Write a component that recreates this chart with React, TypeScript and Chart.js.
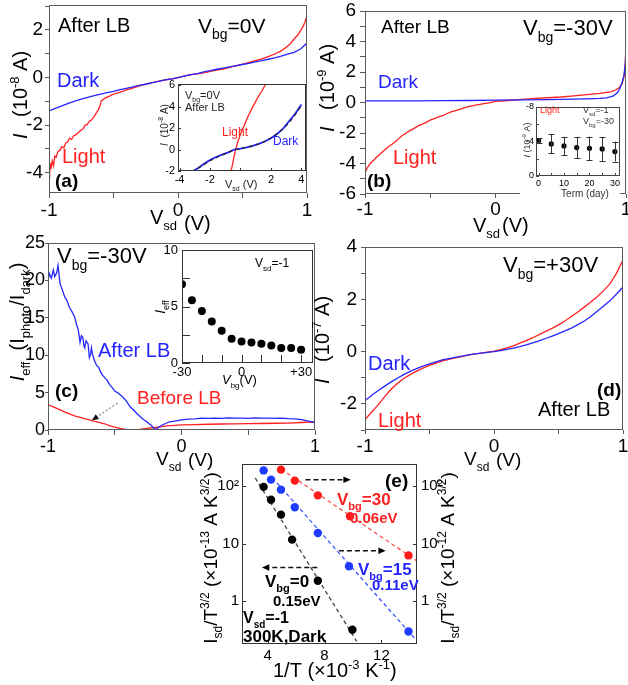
import React, { useEffect, useRef } from 'react';
import { Chart, registerables } from 'chart.js';
Chart.register(...registerables);

const W = 628, H = 685;
const FONT = '"Liberation Sans", Arial, Helvetica, sans-serif';
const RED = '#ff2020', BLUE = '#2424ff', FRAME = '#5a5a5a';

// ---------- (a) Vbg = 0 V, after LB ----------
const aDark: number[][] = [[-1,-1.40],[-0.95,-1.29],[-0.9,-1.19],[-0.85,-1.08],[-0.8,-0.99],[-0.75,-0.91],[-0.7,-0.83],[-0.65,-0.76],[-0.6,-0.70],[-0.55,-0.63],[-0.5,-0.58],[-0.45,-0.51],[-0.4,-0.45],[-0.35,-0.39],[-0.3,-0.33],[-0.25,-0.28],[-0.2,-0.21],[-0.15,-0.16],[-0.1,-0.10],[-0.05,-0.05],[0,0],[0.05,0.06],[0.1,0.12],[0.15,0.17],[0.2,0.24],[0.25,0.29],[0.3,0.35],[0.35,0.40],[0.4,0.45],[0.45,0.50],[0.5,0.55],[0.55,0.60],[0.6,0.66],[0.65,0.71],[0.7,0.77],[0.75,0.83],[0.8,0.90],[0.85,0.99],[0.9,1.06],[0.95,1.20],[1,1.45]];
const aLight: number[][] = [[-1,-3.95],[-0.995,-4.05],[-0.99,-3.6],[-0.985,-3.85],[-0.975,-3.5],[-0.965,-3.7],[-0.955,-3.3],[-0.945,-3.35],[-0.93,-3.1],[-0.915,-3.05],[-0.9,-2.9],[-0.885,-2.95],[-0.87,-2.75],[-0.855,-2.7],[-0.84,-2.55],[-0.825,-2.6],[-0.81,-2.45],[-0.79,-2.4],[-0.77,-2.3],[-0.75,-2.2],[-0.735,-2.15],[-0.72,-2.0],[-0.705,-1.98],[-0.69,-1.85],[-0.675,-1.8],[-0.66,-1.7],[-0.645,-1.6],[-0.63,-1.45],[-0.62,-1.38],[-0.605,-1.2],[-0.595,-0.98],[-0.58,-0.92],[-0.565,-0.86],[-0.55,-0.82],[-0.53,-0.78],[-0.51,-0.72],[-0.49,-0.68],[-0.46,-0.63],[-0.43,-0.58],[-0.4,-0.52],[-0.37,-0.47],[-0.34,-0.42],[-0.31,-0.37],[-0.28,-0.32],[-0.25,-0.28],[-0.22,-0.23],[-0.19,-0.2],[-0.16,-0.16],[-0.12,-0.12],[-0.08,-0.08],[-0.04,-0.05],[0,0],[0.05,0.07],[0.1,0.12],[0.15,0.16],[0.2,0.2],[0.25,0.26],[0.3,0.31],[0.35,0.36],[0.4,0.43],[0.45,0.49],[0.5,0.57],[0.55,0.64],[0.6,0.71],[0.65,0.79],[0.7,0.88],[0.75,0.99],[0.8,1.12],[0.84,1.28],[0.87,1.42],[0.9,1.62],[0.93,1.8],[0.95,1.97],[0.97,2.15],[0.985,2.35],[1,2.6]];
const aXTicks = [-1, -0.5, 0, 0.5, 1];
const aXLabels = [-1, 0, 1];
const aYTicks = [-4, -3, -2, -1, 0, 1, 2, 3];
const aYLabels = [-4, -2, 0, 2];
// inset of (a)
const aInDark: number[][] = [[-3.1,-2.0],[-2.8,-1.75],[-2.5,-1.45],[-2.2,-1.15],[-2.0,-0.98],[-1.6,-0.7],[-1.2,-0.47],[-0.8,-0.26],[-0.4,0.0],[0,0.08],[0.4,0.2],[0.8,0.34],[1.2,0.52],[1.6,0.75],[2.0,1.05],[2.4,1.45],[2.8,1.95],[3.2,2.65],[3.6,3.35],[4.0,4.2]];
const aInFit: number[][] = [[-3.2,-2.1],[-2.5,-1.5],[-2,-1.05],[-1.5,-0.7],[-1,-0.38],[-0.5,-0.08],[0,0.1],[0.5,0.22],[1,0.42],[1.5,0.7],[2,1.08],[2.5,1.56],[3,2.2],[3.5,3.05],[4,4.1]];
const aInLight: number[][] = [[-0.62,-2.0],[-0.5,-1.25],[-0.4,-0.5],[-0.3,0.1],[-0.15,0.8],[0,1.45],[0.2,2.1],[0.5,3.1],[0.8,3.95],[1.1,4.75],[1.4,5.45],[1.7,6.2]];
const aInXTicks = [-4, -2, 0, 2, 4];
const aInXLabels = [-4, -2, 2, 4];
const aInYTicks = [-2, 0, 2, 4, 6];

// ---------- (b) Vbg = -30 V, after LB ----------
const bDark: number[][] = [[-1,0.1],[-0.8,0.11],[-0.6,0.11],[-0.4,0.12],[-0.2,0.13],[0,0.15],[0.2,0.17],[0.4,0.19],[0.6,0.22],[0.7,0.24],[0.8,0.27],[0.85,0.3],[0.9,0.42],[0.93,0.6],[0.95,0.86],[0.97,1.3],[0.985,1.8],[0.995,2.6],[1.0,3.6]];
const bLight: number[][] = [[-1,-4.6],[-0.98,-4.25],[-0.96,-4.0],[-0.93,-3.75],[-0.91,-3.57],[-0.88,-3.35],[-0.85,-3.11],[-0.82,-2.9],[-0.78,-2.66],[-0.75,-2.45],[-0.72,-2.2],[-0.69,-2.03],[-0.66,-1.86],[-0.62,-1.68],[-0.59,-1.52],[-0.56,-1.42],[-0.53,-1.3],[-0.5,-1.15],[-0.46,-1.02],[-0.43,-0.93],[-0.4,-0.84],[-0.37,-0.72],[-0.34,-0.61],[-0.3,-0.52],[-0.27,-0.43],[-0.24,-0.35],[-0.21,-0.27],[-0.17,-0.21],[-0.14,-0.16],[-0.1,-0.09],[-0.05,-0.02],[0,0.07],[0.1,0.13],[0.2,0.2],[0.3,0.27],[0.4,0.31],[0.5,0.36],[0.6,0.43],[0.7,0.51],[0.8,0.6],[0.88,0.7],[0.92,0.82],[0.95,0.98],[0.97,1.25],[0.985,1.7],[0.995,2.6],[1.0,4.0]];
const bYTicks = [-6, -5, -4, -3, -2, -1, 0, 1, 2, 3, 4, 5, 6];
const bYLabels = [-6, -4, -2, 0, 2, 4, 6];
// inset of (b)
const bDays = [0, 5, 10, 15, 20, 25, 30];
const bCurr = [-4.1, -3.72, -3.49, -3.29, -3.22, -3.14, -2.83];
const bErr = [0.3, 1.1, 1.05, 1.25, 1.35, 1.4, 1.15];
const bInXTicks = [0, 5, 10, 15, 20, 25, 30];
const bInXLabels = [0, 10, 20, 30];
const bInYTicks = [-8, -6, -4, -2, 0];
const bInYLabels = [-8, -4, 0];

// ---------- (c) Ieff ----------
const cAfter: number[][] = [[-1,20.0],[-0.99,20.9],[-0.975,20.3],[-0.96,21.4],[-0.95,20.5],[-0.935,21.0],[-0.925,22.0],[-0.91,19.6],[-0.89,18.6],[-0.875,17.8],[-0.86,17.4],[-0.84,16.4],[-0.82,15.8],[-0.8,15.1],[-0.785,14.0],[-0.775,13.5],[-0.765,12.4],[-0.76,11.7],[-0.75,12.6],[-0.74,12.4],[-0.73,11.2],[-0.725,11.0],[-0.715,11.9],[-0.7,11.5],[-0.69,9.7],[-0.68,10.2],[-0.675,11.0],[-0.665,10.0],[-0.65,9.2],[-0.635,8.6],[-0.62,8.4],[-0.61,7.9],[-0.595,7.4],[-0.575,7.0],[-0.555,6.6],[-0.54,6.1],[-0.52,5.7],[-0.5,5.2],[-0.48,5.0],[-0.46,4.7],[-0.44,4.4],[-0.41,3.8],[-0.385,3.1],[-0.36,2.7],[-0.335,2.2],[-0.31,1.8],[-0.285,1.4],[-0.26,1.1],[-0.24,0.8],[-0.225,0.6],[-0.21,0.3],[-0.2,0.1],[-0.19,0.15],[-0.175,0.3],[-0.16,0.5],[-0.14,0.7],[-0.115,0.9],[-0.09,1.1],[-0.05,1.2],[0,1.35],[0.05,1.45],[0.1,1.5],[0.15,1.6],[0.2,1.55],[0.25,1.6],[0.3,1.55],[0.35,1.62],[0.4,1.58],[0.45,1.6],[0.5,1.55],[0.55,1.62],[0.6,1.58],[0.65,1.6],[0.7,1.55],[0.75,1.58],[0.8,1.52],[0.85,1.5],[0.9,1.38],[0.95,1.2],[1,1.0]];
const cBefore: number[][] = [[-1,3.4],[-0.96,3.1],[-0.92,2.8],[-0.88,2.45],[-0.84,2.15],[-0.8,1.9],[-0.76,1.7],[-0.72,1.5],[-0.69,1.35],[-0.65,1.15],[-0.61,1.0],[-0.57,0.8],[-0.54,0.6],[-0.5,0.4],[-0.46,0.22],[-0.43,0.1],[-0.4,0.0],[-0.37,0.02],[-0.34,0.0],[-0.3,0.1],[-0.26,0.22],[-0.22,0.3],[-0.19,0.36],[-0.15,0.45],[-0.11,0.54],[-0.05,0.62],[0,0.68],[0.1,0.72],[0.2,0.77],[0.3,0.8],[0.4,0.81],[0.5,0.84],[0.6,0.87],[0.7,0.9],[0.8,0.93],[0.9,1.0],[1,1.1]];
const cArrow: number[][] = [[-0.48, 3.6], [-0.67, 1.3]];
const cYTicks = [0, 5, 10, 15, 20, 25];
// inset of (c)
const cVbg = [-30, -25, -20, -15, -10, -5, 0, 5, 10, 15, 20, 25, 30];
const cEff = [6.97, 5.56, 4.6, 3.67, 2.85, 2.14, 1.9, 1.82, 1.7, 1.55, 1.32, 1.32, 1.17];
const cInXTicks = [-30, -20, -10, 0, 10, 20, 30];
const cInYTicks = [0, 2.5, 5, 7.5, 10];
const cInYLabels = [0, 5, 10];

// ---------- (d) Vbg = +30 V ----------
const dDark: number[][] = [[-1,-1.87],[-0.95,-1.68],[-0.9,-1.5],[-0.85,-1.33],[-0.8,-1.17],[-0.75,-1.02],[-0.7,-0.88],[-0.65,-0.76],[-0.6,-0.65],[-0.55,-0.56],[-0.5,-0.47],[-0.45,-0.39],[-0.4,-0.32],[-0.35,-0.27],[-0.3,-0.22],[-0.25,-0.17],[-0.2,-0.13],[-0.15,-0.09],[-0.1,-0.06],[-0.05,-0.03],[0,0],[0.05,0.04],[0.1,0.08],[0.15,0.13],[0.2,0.19],[0.25,0.26],[0.3,0.33],[0.35,0.41],[0.4,0.5],[0.45,0.59],[0.5,0.69],[0.55,0.79],[0.6,0.9],[0.65,1.03],[0.7,1.17],[0.75,1.34],[0.8,1.54],[0.85,1.74],[0.9,1.95],[0.95,2.2],[1,2.47]];
const dLight: number[][] = [[-1,-2.6],[-0.95,-2.32],[-0.9,-2.05],[-0.85,-1.74],[-0.8,-1.45],[-0.75,-1.22],[-0.7,-1.03],[-0.65,-0.88],[-0.6,-0.75],[-0.55,-0.63],[-0.5,-0.53],[-0.45,-0.44],[-0.4,-0.36],[-0.35,-0.3],[-0.3,-0.24],[-0.25,-0.19],[-0.2,-0.14],[-0.15,-0.1],[-0.1,-0.06],[-0.05,-0.02],[0,0.02],[0.05,0.07],[0.1,0.14],[0.15,0.22],[0.2,0.32],[0.25,0.42],[0.3,0.53],[0.35,0.65],[0.4,0.77],[0.45,0.89],[0.5,1.02],[0.55,1.17],[0.6,1.34],[0.65,1.51],[0.7,1.7],[0.75,1.9],[0.8,2.1],[0.85,2.33],[0.9,2.6],[0.95,3.0],[1,3.5]];
const dYTicks = [-3, -2, -1, 0, 1, 2, 3, 4];
const dYLabels = [-2, 0, 2, 4];

// ---------- (e) Arrhenius ----------
const eBlackX = [3.72, 4.24, 4.94, 5.72, 7.53, 9.96];
const eBlackY = [98, 58.5, 32, 11.7, 2.24, 0.31];
const eBlueX = [3.72, 4.24, 4.94, 5.91, 7.53, 9.72, 13.9];
const eBlueY = [190, 131, 87.5, 43, 15.3, 4.0, 0.29];
const eRedX = [4.94, 5.91, 7.53, 9.79, 13.9];
const eRedY = [196, 126, 69.6, 30, 6.2];
const eBlackFit: number[][] = [[3.13, 140], [10.26, 0.195]];
const eBlueFit: number[][] = [[4.66, 114.7], [14.42, 0.208]];
const eRedFit: number[][] = [[5.37, 171], [14.54, 4.87]];
const eArrows: number[][] = [[6.66, 9.84, 131], [9.01, 12.3, 7.5], [7.49, 3.6, 3.82]];
const eXTicks = [4, 8, 12];
const eYTicks = [1, 10, 100];
const eYLabels = ['1', '10', '10²'];

// ---------- helpers ----------
type Seg = { t: string; s?: 'sub' | 'sup'; i?: boolean };
const V = (sub: string, rest: string): Seg[] => [{ t: 'V' }, { t: sub, s: 'sub' }, { t: rest }];

function text(ctx: CanvasRenderingContext2D, segs: string | Seg[], x: number, y: number, size: number, o: any = {}) {
  const list: Seg[] = typeof segs === 'string' ? [{ t: segs }] : segs;
  ctx.save();
  ctx.translate(x, y);
  if (o.rot) ctx.rotate(o.rot);
  ctx.fillStyle = o.color || '#000';
  ctx.textBaseline = 'alphabetic';
  ctx.textAlign = 'left';
  const f = (sg: Seg) => `${sg.i ? 'italic ' : ''}${o.bold ? 'bold ' : ''}${sg.s ? Math.round(size * 0.65) : size}px ${FONT}`;
  let total = 0;
  for (const sg of list) { ctx.font = f(sg); total += ctx.measureText(sg.t).width; }
  let cx = o.align === 'center' ? -total / 2 : o.align === 'right' ? -total : 0;
  for (const sg of list) {
    ctx.font = f(sg);
    const dy = sg.s === 'sub' ? size * 0.3 : sg.s === 'sup' ? -size * 0.42 : 0;
    ctx.fillText(sg.t, cx, dy);
    cx += ctx.measureText(sg.t).width;
  }
  ctx.restore();
}
function textRot(ctx: CanvasRenderingContext2D, segs: string | Seg[], cx: number, cy: number, size: number, o: any = {}) {
  ctx.save();
  ctx.translate(cx, cy);
  ctx.rotate(-Math.PI / 2);
  text(ctx, segs, 0, size * 0.35, size, { ...o, align: 'center' });
  ctx.restore();
}
function arrow(ctx: CanvasRenderingContext2D, x1: number, y1: number, x2: number, y2: number, color: string, dash: number[], head = 7, lw = 1.5) {
  ctx.save();
  const ang = Math.atan2(y2 - y1, x2 - x1);
  ctx.strokeStyle = color; ctx.lineWidth = lw; ctx.setLineDash(dash);
  ctx.beginPath(); ctx.moveTo(x1, y1);
  ctx.lineTo(x2 - Math.cos(ang) * head * 0.8, y2 - Math.sin(ang) * head * 0.8); ctx.stroke();
  ctx.setLineDash([]); ctx.fillStyle = '#000';
  ctx.beginPath(); ctx.moveTo(x2, y2);
  ctx.lineTo(x2 - head * Math.cos(ang - 0.42), y2 - head * Math.sin(ang - 0.42));
  ctx.lineTo(x2 - head * Math.cos(ang + 0.42), y2 - head * Math.sin(ang + 0.42));
  ctx.closePath(); ctx.fill();
  ctx.restore();
}

const line = (pairs: number[][], color: string, width = 1.3, dash: number[] = []) => ({
  data: pairs.map(([x, y]) => ({ x, y })), borderColor: color, borderWidth: width, pointRadius: 0,
  fill: false, tension: 0, borderDash: dash,
});
const dots = (xs: number[], ys: number[], color: string, r: number) => ({
  data: xs.map((x, i) => ({ x, y: ys[i] })), showLine: false, pointRadius: r,
  pointBackgroundColor: color, pointBorderColor: color, borderColor: color, backgroundColor: color, pointBorderWidth: 0,
});

interface Ax { min: number; max: number; ticks: number[]; label: (v: number) => string; size: number; tl: number; pad: number; type?: string; reverse?: boolean; position?: string }
const lbl = (set: number[], fmt?: (v: number) => string) => (v: number) => (set.some(s => Math.abs(s - v) < 1e-9) ? (fmt ? fmt(v) : String(v)) : '');

function axis(a: Ax, fit: (s: any) => void) {
  return {
    type: a.type || 'linear', min: a.min, max: a.max, reverse: !!a.reverse, position: a.position,
    afterBuildTicks: (s: any) => { s.ticks = a.ticks.map(v => ({ value: v })); },
    afterFit: fit,
    grid: { display: a.tl > 0, drawOnChartArea: false, drawTicks: a.tl > 0, tickLength: a.tl, color: FRAME, lineWidth: 1 },
    border: { display: false },
    ticks: { callback: (v: any) => a.label(Number(v)), font: { family: FONT, size: a.size }, color: '#000', padding: a.pad, autoSkip: false, maxRotation: 0, minRotation: 0 },
  };
}

interface Spec {
  area: [number, number, number, number]; yw: number; xh: number; y2w?: number;
  datasets: any[]; x: Ax; y: Ax; y2?: Ax;
  bg?: [number, number, number, number]; frame?: string; inward?: number; inwardY2?: boolean;
  notes?: (ctx: CanvasRenderingContext2D, c: any) => void;
}

function build(s: Spec): any {
  const [l, t, r, b] = s.area;
  const xfit = (sc: any) => { sc.height = s.xh; sc.paddingLeft = 0; sc.paddingRight = 0; sc.paddingTop = 0; sc.paddingBottom = 0; };
  const yfit = (w: number) => (sc: any) => { sc.width = w; sc.paddingLeft = 0; sc.paddingRight = 0; sc.paddingTop = 0; sc.paddingBottom = 0; };
  const scales: any = { x: axis({ ...s.x, position: 'bottom' }, xfit), y: axis({ ...s.y, position: 'left' }, yfit(s.yw)) };
  if (s.y2) scales.y2 = axis({ ...s.y2, position: 'right' }, yfit(s.y2w || 0));
  return {
    type: 'line',
    data: { datasets: s.datasets },
    options: {
      responsive: false, animation: false, devicePixelRatio: 1, events: [],
      layout: { autoPadding: false, padding: { left: l - s.yw, top: t, right: W - r - (s.y2w || 0), bottom: H - b - s.xh } },
      plugins: { legend: { display: false }, tooltip: { enabled: false } },
      scales,
    },
    plugins: [{
      id: 'frame',
      beforeDraw(c: any) {
        if (s.bg) { const ctx = c.ctx; ctx.save(); ctx.fillStyle = '#fff'; ctx.fillRect(s.bg[0], s.bg[1], s.bg[2] - s.bg[0], s.bg[3] - s.bg[1]); ctx.restore(); }
      },
      afterDraw(c: any) {
        const ctx = c.ctx; const { left, top, right, bottom } = c.chartArea;
        ctx.save();
        ctx.strokeStyle = s.frame || FRAME; ctx.lineWidth = 1;
        ctx.strokeRect(Math.round(left) + 0.5, Math.round(top) + 0.5, Math.round(right - left) - 1, Math.round(bottom - top) - 1);
        if (s.inward) {
          const n = s.inward;
          ctx.beginPath();
          for (const tk of c.scales.x.ticks) { const px = Math.round(c.scales.x.getPixelForValue(tk.value)) + 0.5; ctx.moveTo(px, bottom); ctx.lineTo(px, bottom - n); }
          for (const tk of c.scales.y.ticks) { const py = Math.round(c.scales.y.getPixelForValue(tk.value)) + 0.5; ctx.moveTo(left, py); ctx.lineTo(left + n, py); if (s.inwardY2) { ctx.moveTo(right, py); ctx.lineTo(right - n, py); } }
          ctx.stroke();
        }
        ctx.restore();
        if (s.notes) { ctx.save(); s.notes(ctx, c); ctx.restore(); }
      },
    }],
  };
}

const intLbl = lbl([-1, 0, 1]);

const SPECS: Spec[] = [
  // (a)
  {
    area: [49, 5, 307, 193], yw: 40, xh: 30,
    datasets: [line(aDark, BLUE), line(aLight, RED)],
    x: { min: -1, max: 1, ticks: aXTicks, label: lbl(aXLabels), size: 19, tl: 5, pad: 1 },
    y: { min: -4.85, max: 3.05, ticks: aYTicks, label: lbl(aYLabels), size: 19, tl: 4, pad: 2 },
    notes: (ctx) => {
      text(ctx, 'After LB', 58, 32, 20);
      text(ctx, V('bg', '=0V'), 198, 33, 21);
      text(ctx, 'Dark', 57, 87, 20, { color: BLUE });
      text(ctx, 'Light', 62, 163, 20, { color: RED });
      text(ctx, '(a)', 55, 187, 19, { bold: true });
      textRot(ctx, [{ t: 'I', i: true }, { t: '   (10' }, { t: '-8', s: 'sup' }, { t: ' A)' }], 20, 95, 20);
      text(ctx, V('sd', ''), 150, 224, 20);
      text(ctx, '(V)', 184, 230, 20);
    },
  },
  // (a) inset
  {
    area: [178, 84, 306, 171], yw: 20, xh: 15, bg: [158, 82, 306, 190], frame: '#333', inward: 3,
    datasets: [line(aInFit, '#222', 1.2, [4, 3]), line(aInDark, BLUE, 1.8), line(aInLight, RED, 1.3)],
    x: { min: -4.1, max: 4.3, ticks: aInXTicks, label: lbl(aInXLabels), size: 11, tl: 0, pad: 2 },
    y: { min: -2, max: 6.1, ticks: aInYTicks, label: lbl(aInYTicks), size: 11, tl: 0, pad: 3 },
    notes: (ctx) => {
      text(ctx, V('bg', '=0V'), 185, 99, 11, { color: '#222' });
      text(ctx, 'After LB', 185, 111, 11, { color: '#222' });
      text(ctx, 'Light', 222, 136, 12, { color: RED });
      text(ctx, 'Dark', 273, 145, 12, { color: BLUE });
      text(ctx, V('sd', ' (V)'), 225, 188, 11, { color: '#222' });
      textRot(ctx, [{ t: 'I', i: true }, { t: '  (10' }, { t: '-8', s: 'sup' }, { t: ' A)' }], 164, 125, 10, { color: '#222' });
    },
  },
  // (b)
  {
    area: [365, 11, 626, 194], yw: 40, xh: 30,
    datasets: [line(bDark, BLUE), line(bLight, RED)],
    x: { min: -1, max: 1, ticks: aXTicks, label: intLbl, size: 19, tl: 4, pad: 0 },
    y: { min: -6, max: 6, ticks: bYTicks, label: lbl(bYLabels), size: 19, tl: 5, pad: 4 },
    notes: (ctx) => {
      text(ctx, 'After LB', 381, 33, 19);
      text(ctx, V('bg', '=-30V'), 523, 35, 22);
      text(ctx, 'Dark', 378, 88, 19, { color: BLUE });
      text(ctx, 'Light', 393, 164, 20, { color: RED });
      text(ctx, '(b)', 367, 187, 19, { bold: true });
      textRot(ctx, [{ t: 'I', i: true }, { t: '   (10' }, { t: '-9', s: 'sup' }, { t: ' A)' }], 327, 88, 20);
      text(ctx, V('sd', ''), 473, 232, 20);
      text(ctx, '(V)', 502, 232, 20);
    },
  },
  // (b) inset
  {
    area: [536, 107, 620, 176], yw: 15, xh: 12, bg: [520, 104, 620, 200], frame: '#444', inward: 3,
    datasets: [dots(bDays, bCurr, '#000', 2.6)],
    x: { min: -1, max: 32, ticks: bInXTicks, label: lbl(bInXLabels), size: 9, tl: 0, pad: 2 },
    y: { min: -8, max: 0, reverse: true, ticks: bInYTicks, label: lbl(bInYLabels), size: 9, tl: 0, pad: 2 },
    notes: (ctx, c) => {
      const xs = c.scales.x, ys = c.scales.y;
      ctx.strokeStyle = '#333'; ctx.lineWidth = 1;
      ctx.beginPath();
      bDays.forEach((d, i) => {
        const px = Math.round(xs.getPixelForValue(d)) + 0.5;
        const y1 = ys.getPixelForValue(bCurr[i] - bErr[i]), y2 = ys.getPixelForValue(bCurr[i] + bErr[i]);
        ctx.moveTo(px, y1); ctx.lineTo(px, y2);
        ctx.moveTo(px - 3, Math.round(y1) + 0.5); ctx.lineTo(px + 3, Math.round(y1) + 0.5);
        ctx.moveTo(px - 3, Math.round(y2) + 0.5); ctx.lineTo(px + 3, Math.round(y2) + 0.5);
      });
      ctx.stroke();
      text(ctx, 'Light', 540, 113, 9, { color: RED });
      text(ctx, V('sd', '=-1'), 583, 113, 9, { color: '#333' });
      text(ctx, V('bg', '=-30'), 583, 124, 9, { color: '#333' });
      text(ctx, 'Term (day)', 585, 197, 10, { align: 'center', color: '#333' });
      textRot(ctx, [{ t: 'I', i: true }, { t: ' (10' }, { t: '-9', s: 'sup' }, { t: ' A)' }], 527, 140, 9, { color: '#333' });
    },
  },
  // (c)
  {
    area: [48, 243, 315, 430], yw: 40, xh: 30,
    datasets: [line(cAfter, BLUE), line(cBefore, RED)],
    x: { min: -1, max: 1, ticks: aXTicks, label: intLbl, size: 18, tl: 5, pad: 1 },
    y: { min: 0, max: 25, ticks: cYTicks, label: lbl(cYTicks), size: 18, tl: 3, pad: 0 },
    notes: (ctx, c) => {
      const xs = c.scales.x, ys = c.scales.y;
      arrow(ctx, xs.getPixelForValue(cArrow[0][0]), ys.getPixelForValue(cArrow[0][1]), xs.getPixelForValue(cArrow[1][0]), ys.getPixelForValue(cArrow[1][1]), '#8a8a8a', [2, 2], 7, 1.3);
      text(ctx, V('bg', '=-30V'), 57, 263, 22);
      text(ctx, 'After LB', 98, 357, 20, { color: BLUE });
      text(ctx, 'Before LB', 137, 404, 19, { color: RED });
      text(ctx, '(c)', 55, 397, 19, { bold: true });
      textRot(ctx, [{ t: 'I', i: true }, { t: 'eff', s: 'sub' }, { t: '  (I' }, { t: 'photo', s: 'sub' }, { t: '/I' }, { t: 'dark', s: 'sub' }, { t: ')' }], 17, 322, 20);
      text(ctx, V('sd', ''), 156, 465, 19);
      text(ctx, '(V)', 188, 466, 19);
    },
  },
  // (c) inset
  {
    area: [182, 250, 313, 363], yw: 20, xh: 15, bg: [173, 248, 313, 390], frame: '#333', inward: 8,
    datasets: [dots(cVbg, cEff, '#000', 4)],
    x: { min: -30, max: 36, ticks: cInXTicks, label: lbl([-30, 0, 30], v => (v > 0 ? '+' + v : String(v))), size: 13, tl: 0, pad: 2 },
    y: { min: 0, max: 10, ticks: cInYTicks, label: lbl(cInYLabels), size: 13, tl: 0, pad: 4 },
    notes: (ctx) => {
      text(ctx, V('sd', '=-1'), 255, 267, 12);
      textRot(ctx, [{ t: 'I', i: true }, { t: 'eff', s: 'sub' }], 160, 307, 14);
      text(ctx, [{ t: 'V', i: true }, { t: 'bg', s: 'sub' }, { t: '(V)' }], 222, 384, 13);
    },
  },
  // (d)
  {
    area: [365, 247, 623, 430], yw: 40, xh: 30,
    datasets: [line(dDark, BLUE), line(dLight, RED)],
    x: { min: -1, max: 1, ticks: aXTicks, label: intLbl, size: 19, tl: 4, pad: 1 },
    y: { min: -3, max: 4, ticks: dYTicks, label: lbl(dYLabels), size: 19, tl: 4, pad: 4 },
    notes: (ctx) => {
      text(ctx, V('bg', '=+30V'), 503, 272, 22);
      text(ctx, 'Dark', 368, 370, 20, { color: BLUE });
      text(ctx, 'Light', 378, 427, 20, { color: RED });
      text(ctx, '(d)', 597, 396, 19, { bold: true });
      text(ctx, 'After LB', 538, 416, 20);
      textRot(ctx, [{ t: 'I', i: true }, { t: '   (10' }, { t: '-7', s: 'sup' }, { t: ' A)' }], 322, 340, 20);
      text(ctx, V('sd', ''), 464, 465, 19);
      text(ctx, '(V)', 496, 466, 19);
    },
  },
  // (e)
  {
    area: [242, 464, 417, 644], yw: 30, xh: 20, y2w: 30, inward: 4, inwardY2: true, frame: '#333',
    datasets: [
      dots(eRedX, eRedY, '#ff1a1a', 4.2), dots(eBlueX, eBlueY, '#1e3cff', 4.2), dots(eBlackX, eBlackY, '#000', 4.2),
      line(eRedFit, '#ff5050', 1.3, [4, 3]), line(eBlueFit, '#3a55ff', 1.3, [4, 3]), line(eBlackFit, '#444', 1.3, [4, 3]),
    ],
    x: { min: 2.2, max: 14.5, ticks: eXTicks, label: lbl(eXTicks), size: 15, tl: 0, pad: 3 },
    y: { type: 'logarithmic', min: 0.175, max: 246, ticks: eYTicks, label: (v) => eYLabels[eYTicks.indexOf(v)] ?? '', size: 15, tl: 0, pad: 3 },
    y2: { type: 'logarithmic', min: 0.175, max: 246, ticks: eYTicks, label: (v) => eYLabels[eYTicks.indexOf(v)] ?? '', size: 15, tl: 0, pad: 4 },
    notes: (ctx, c) => {
      const xs = c.scales.x, ys = c.scales.y;
      for (const [x1, x2, yv] of eArrows) {
        const py = ys.getPixelForValue(yv);
        arrow(ctx, xs.getPixelForValue(x1), py, xs.getPixelForValue(x2), py, '#111', [5, 3], 8, 1.5);
      }
      text(ctx, '(e)', 385, 487, 19, { bold: true });
      text(ctx, V('bg', '=30'), 337, 505, 17, { bold: true, color: RED });
      text(ctx, '0.06eV', 350, 523, 15, { bold: true, color: RED });
      text(ctx, V('bg', '=15'), 358, 575, 17, { bold: true, color: BLUE });
      text(ctx, '0.11eV', 372, 590, 15, { bold: true, color: BLUE });
      text(ctx, V('bg', '=0'), 265, 587, 17, { bold: true });
      text(ctx, '0.15eV', 273, 606, 15, { bold: true });
      text(ctx, V('sd', '=-1'), 243, 623, 16, { bold: true });
      text(ctx, '300K,Dark', 243, 642, 17, { bold: true });
      text(ctx, [{ t: '1/T (×10' }, { t: '-3', s: 'sup' }, { t: ' K' }, { t: '-1', s: 'sup' }, { t: ')' }], 273, 677, 20);
      const ttl = (e: string): Seg[] => [{ t: 'I' }, { t: 'sd', s: 'sub' }, { t: '/T' }, { t: '3/2', s: 'sup' }, { t: ' (×10' }, { t: e, s: 'sup' }, { t: ' A K' }, { t: '3/2', s: 'sup' }, { t: ')' }];
      textRot(ctx, ttl('-13'), 210, 558, 19);
      textRot(ctx, ttl('-12'), 447, 558, 19);
    },
  },
];

export default function App() {
  const refs = useRef<(HTMLCanvasElement | null)[]>([]);
  useEffect(() => {
    Chart.defaults.font.family = FONT;
    const charts = SPECS.map((s, i) => new Chart(refs.current[i] as HTMLCanvasElement, build(s)));
    return () => charts.forEach(c => c.destroy());
  }, []);
  return (
    <div style={{ position: 'absolute', left: 0, top: 0, width: W, height: H, background: '#fff', overflow: 'hidden' }}>
      {SPECS.map((_, i) => (
        <canvas key={i} ref={el => { refs.current[i] = el; }} width={W} height={H} style={{ position: 'absolute', left: 0, top: 0 }} />
      ))}
    </div>
  );
}
